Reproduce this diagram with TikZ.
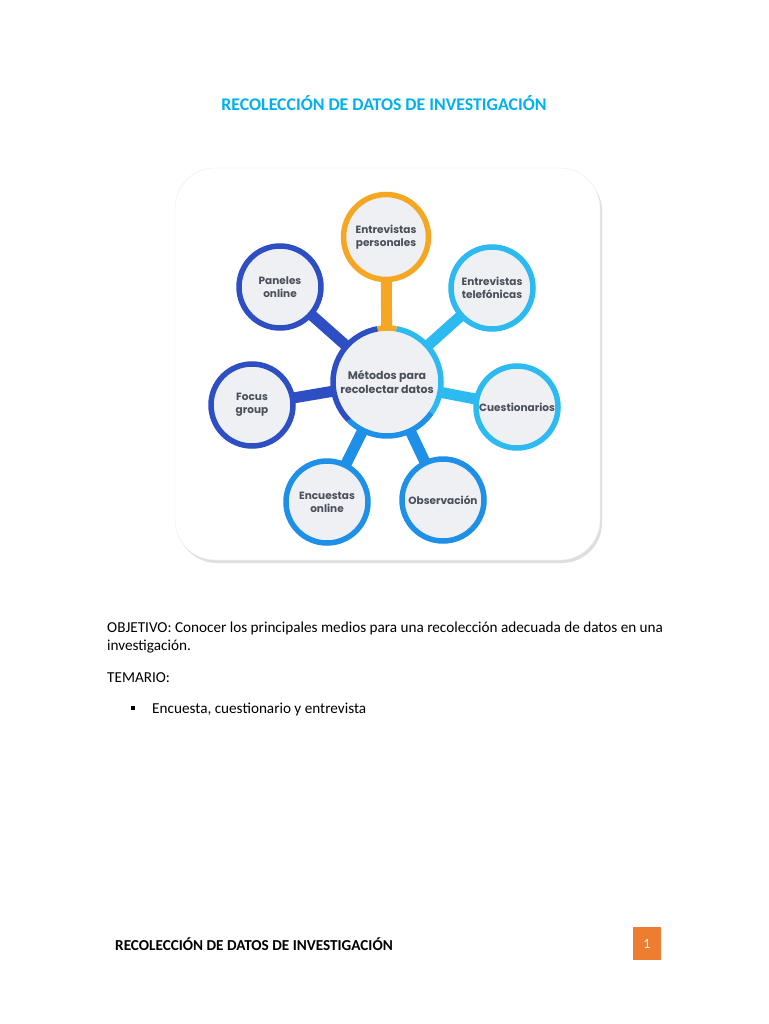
\documentclass[tikz,border=0pt]{standalone}
\usepackage{fontspec}
\setmainfont{Carlito}
\newfontfamily\diag{Poppins}
\definecolor{ttl}{HTML}{00B0F0}
\definecolor{corg}{HTML}{F5A623}
\definecolor{cdark}{HTML}{2E4FC4}
\definecolor{cmid}{HTML}{1E90E8}
\definecolor{clight}{HTML}{2CBAF0}
\definecolor{cfill}{HTML}{EEF0F3}
\definecolor{ctext}{HTML}{4A4F5A}
\definecolor{pgorg}{HTML}{ED7D31}
\begin{document}
\begin{tikzpicture}[x=1pt,y=-1pt,
  body/.style={anchor=west,inner sep=0,font=\fontsize{15.2}{18}\selectfont},
  sat/.style={circle,draw=#1,line width=5.5pt,fill=cfill,minimum size=82pt,inner sep=0,align=center,text=ctext,font=\diag\bfseries\fontsize{10.5}{13}\selectfont},
  stem/.style={draw=#1,line width=11pt}]
\useasboundingbox (0,0) rectangle (768,1024);
\fill[white] (0,0) rectangle (768,1024);
\node[text=ttl,font=\bfseries\fontsize{17.8}{20}\selectfont] (title) at (384,103) {RECOLECCIÓN DE DATOS DE INVESTIGACIÓN};
% card
\fill[gray!25,rounded corners=40pt] (177,171) rectangle (602,563);
\draw[rounded corners=40pt,fill=white,draw=gray!15] (175,168) rectangle (600,560);
\coordinate (c) at (387,382);
\coordinate (p1) at (386,237);
\coordinate (p2) at (492,288);
\coordinate (p3) at (280,287);
\coordinate (p4) at (252,405);
\coordinate (p5) at (517,407);
\coordinate (p6) at (327,502);
\coordinate (p7) at (443,500);
\draw[stem=corg] (c) -- (p1);
\draw[stem=clight] (c) -- (p2);
\draw[stem=cdark] (c) -- (p3);
\draw[stem=cdark] (c) -- (p4);
\draw[stem=clight] (c) -- (p5);
\draw[stem=cmid] (c) -- (p6);
\draw[stem=cmid] (c) -- (p7);
\node[sat=corg,minimum size=85pt] (n1) at (p1) {Entrevistas\\personales};
\node[sat=clight] (n2) at (p2) {Entrevistas\\telefónicas};
\node[sat=cdark] (n3) at (p3) {Paneles\\online};
\node[sat=cdark] (n4) at (p4) {Focus\\group};
\node[sat=clight] (n5) at (p5) {Cuestionarios};
\node[sat=cmid] (n6) at (p6) {Encuestas\\online};
\node[sat=cmid] (n7) at (p7) {Observación};
\node[circle,fill=cfill,minimum size=108pt,inner sep=0,align=center,text=ctext,font=\diag\bfseries\fontsize{11}{14}\selectfont] (m) at (c) {Métodos para\\recolectar datos};
\begin{scope}[line width=5.5pt]
\draw[clight] (c) ++(-80:54) arc[start angle=-80,end angle=35,radius=54];
\draw[cmid] (c) ++(35:54) arc[start angle=35,end angle=135,radius=54];
\draw[cdark] (c) ++(135:54) arc[start angle=135,end angle=260,radius=54];
\draw[corg] (c) ++(-100:54) arc[start angle=-100,end angle=-80,radius=54];
\end{scope}
\node[body] (obj) at (107,628) {OBJETIVO: Conocer los principales medios para una recolección adecuada de datos en una};
\node[body] (obj2) at (107,647) {investigación.};
\node[body] (tem) at (107,678) {TEMARIO:};
\fill (131,706) rectangle (135,710);
\node[body] (it) at (152,709) {Encuesta, cuestionario y entrevista};
\node[body,font=\bfseries\fontsize{15.2}{18}\selectfont] (foot) at (115,944) {RECOLECCIÓN DE DATOS DE INVESTIGACIÓN};
\node[fill=pgorg,minimum width=28pt,minimum height=33pt,text=white,font=\fontsize{14}{16}\selectfont] (pg) at (647,943.5) {1};
\end{tikzpicture}
\end{document}
